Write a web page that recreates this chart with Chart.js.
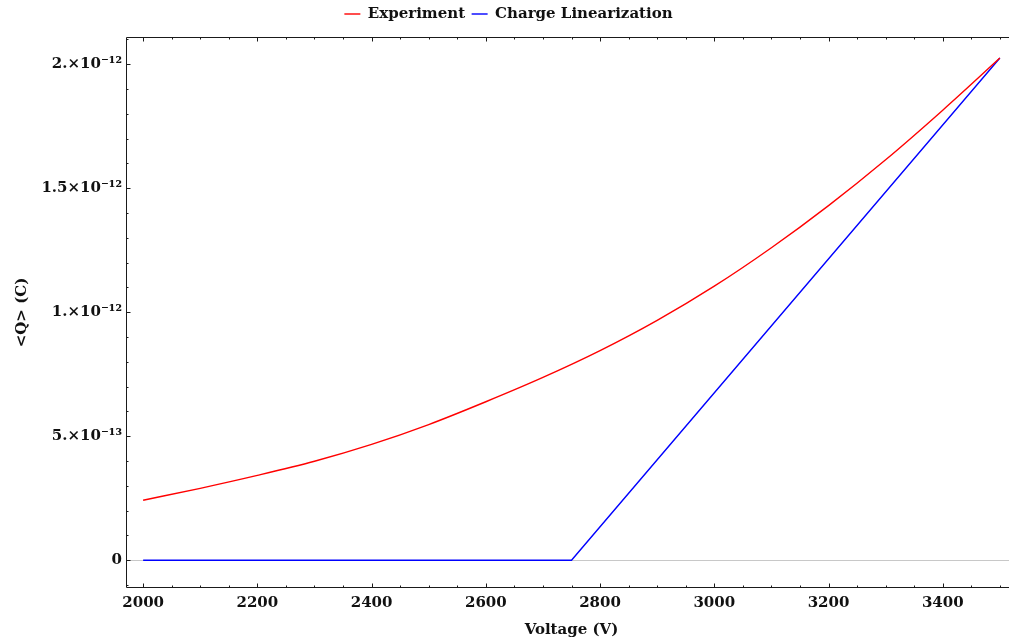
<!DOCTYPE html>
<html>
<head>
<meta charset="utf-8">
<script src="https://cdn.jsdelivr.net/npm/chart.js@4.4.1/dist/chart.umd.min.js"></script>
<style>
  html, body { margin: 0; padding: 0; background: #fff; overflow: hidden; width: 1009px; height: 642px; }
  /* the plot box runs slightly past the right edge of the page */
  #wrap { width: 1009px; height: 642px; overflow: hidden; position: relative; }
  #c { position: absolute; left: 0; top: 0; }
</style>
</head>
<body>
<div id="wrap"><canvas id="c" width="1017" height="642"></canvas></div>
<script>
// Mean collected charge versus bias voltage
const voltages = [2000, 2100, 2200, 2300, 2400, 2500, 2600, 2700, 2800, 2900, 3000, 3100, 3200, 3300, 3400, 3500];
const experimentQ = [2.42e-13, 2.90e-13, 3.42e-13, 3.99e-13, 4.67e-13, 5.47e-13, 6.39e-13, 7.37e-13,
                     8.45e-13, 9.67e-13, 1.105e-12, 1.260e-12, 1.430e-12, 1.615e-12, 1.815e-12, 2.025e-12];

// Linearized charge model: zero below threshold, linear above it
const linVoltages = [2000, 2750, 3500];
const linQ = [0, 0, 2.025e-12];

// Axis ticks
const xTickValues = [2000, 2200, 2400, 2600, 2800, 3000, 3200, 3400];
const yTickValues = [0, 5e-13, 1e-12, 1.5e-12, 2e-12];
const yTickLabels = ['0', '5.×10⁻¹³', '1.×10⁻¹²', '1.5×10⁻¹²', '2.×10⁻¹²'];

const FONT = { family: '"DejaVu Serif", serif', size: 15, weight: 'bold' };
const LEGEND_HEIGHT = 37;

// Reserve a fixed band for the legend above the plot box
const legendBand = {
  id: 'legendBand',
  beforeLayout(chart) {
    const lg = chart.legend;
    if (lg && !lg._bandPatched) {
      const fit = lg.fit;
      lg.fit = function () { fit.call(this); this.height = LEGEND_HEIGHT; };
      lg._bandPatched = true;
    }
  }
};

// Framed plot box with inward major/minor ticks on all four sides
const framePlugin = {
  id: 'frameTicks',
  afterDatasetsDraw(chart) {
    const { ctx, chartArea: a, scales: { x, y } } = chart;
    ctx.save();
    ctx.strokeStyle = '#1a1a1a';
    ctx.lineWidth = 1;
    ctx.beginPath();
    ctx.moveTo(a.left + 0.5, a.top + 0.5);
    ctx.lineTo(a.right - 0.5, a.top + 0.5);
    ctx.lineTo(a.right - 0.5, a.bottom - 0.5);
    ctx.lineTo(a.left + 0.5, a.bottom - 0.5);
    ctx.closePath();
    ctx.stroke();

    const major = 4.5, minor = 2.5;
    ctx.beginPath();
    for (let v = 1950; v <= 3550; v += 50) {
      const px = Math.round(x.getPixelForValue(v)) + 0.5;
      if (px < a.left + 1 || px > a.right - 1) continue;
      const len = (v % 200 === 0) ? major : minor;
      ctx.moveTo(px, a.bottom); ctx.lineTo(px, a.bottom - len);
      ctx.moveTo(px, a.top); ctx.lineTo(px, a.top + len);
    }
    for (let k = -1; k <= 21; k++) {
      const v = k * 1e-13;
      const py = Math.round(y.getPixelForValue(v)) + 0.5;
      if (py < a.top + 1 || py > a.bottom - 1) continue;
      const len = (k % 5 === 0) ? major : minor;
      ctx.moveTo(a.left, py); ctx.lineTo(a.left + len, py);
      ctx.moveTo(a.right, py); ctx.lineTo(a.right - len, py);
    }
    ctx.stroke();
    ctx.restore();
  }
};

new Chart(document.getElementById('c'), {
  type: 'line',
  data: {
    datasets: [
      {
        label: 'Experiment',
        data: voltages.map((v, i) => ({ x: v, y: experimentQ[i] })),
        borderColor: '#ff0000',
        backgroundColor: '#ff0000',
        borderWidth: 1.4,
        pointRadius: 0,
        pointStyle: 'line',
        cubicInterpolationMode: 'monotone'
      },
      {
        label: 'Charge Linearization',
        data: linVoltages.map((v, i) => ({ x: v, y: linQ[i] })),
        borderColor: '#0000ff',
        backgroundColor: '#0000ff',
        borderWidth: 1.4,
        pointRadius: 0,
        pointStyle: 'line',
        tension: 0
      }
    ]
  },
  options: {
    responsive: false,
    animation: false,
    devicePixelRatio: 1,
    layout: { padding: { left: 0, right: 0, top: 0, bottom: 0 } },
    plugins: {
      legend: {
        position: 'top',
        align: 'center',
        labels: {
          color: '#111',
          font: FONT,
          usePointStyle: true,
          pointStyleWidth: 16,
          boxHeight: 10,
          padding: 6.5
        }
      },
      tooltip: { enabled: false }
    },
    scales: {
      x: {
        type: 'linear',
        min: 1970,
        max: 3530,
        afterFit: s => { s.height = 54; },
        afterBuildTicks: s => { s.ticks = xTickValues.map(v => ({ value: v })); },
        border: { display: false },
        grid: { display: false, drawTicks: false },
        ticks: { color: '#111', font: FONT, padding: 6, maxRotation: 0, autoSkip: false,
                 callback: v => String(v) },
        title: { display: true, text: 'Voltage (V)', color: '#111', font: FONT, padding: { top: 0, bottom: 3 } }
      },
      y: {
        type: 'linear',
        min: -1.12e-13,
        max: 2.11e-12,
        afterFit: s => { s.width = 126; },
        afterBuildTicks: s => { s.ticks = yTickValues.map(v => ({ value: v })); },
        border: { display: false },
        grid: {
          display: true,
          drawTicks: false,
          lineWidth: 1,
          color: c => (c.tick && c.tick.value === 0) ? '#c8c8c8' : 'rgba(0,0,0,0)'
        },
        ticks: { color: '#111', font: FONT, padding: 4, autoSkip: false,
                 callback: v => { const i = yTickValues.indexOf(v); return i >= 0 ? yTickLabels[i] : ''; } },
        title: { display: true, text: '<Q> (C)', color: '#111', font: FONT, padding: { top: 13, bottom: 0 } }
      }
    }
  },
  plugins: [legendBand, framePlugin]
});
</script>
</body>
</html>
